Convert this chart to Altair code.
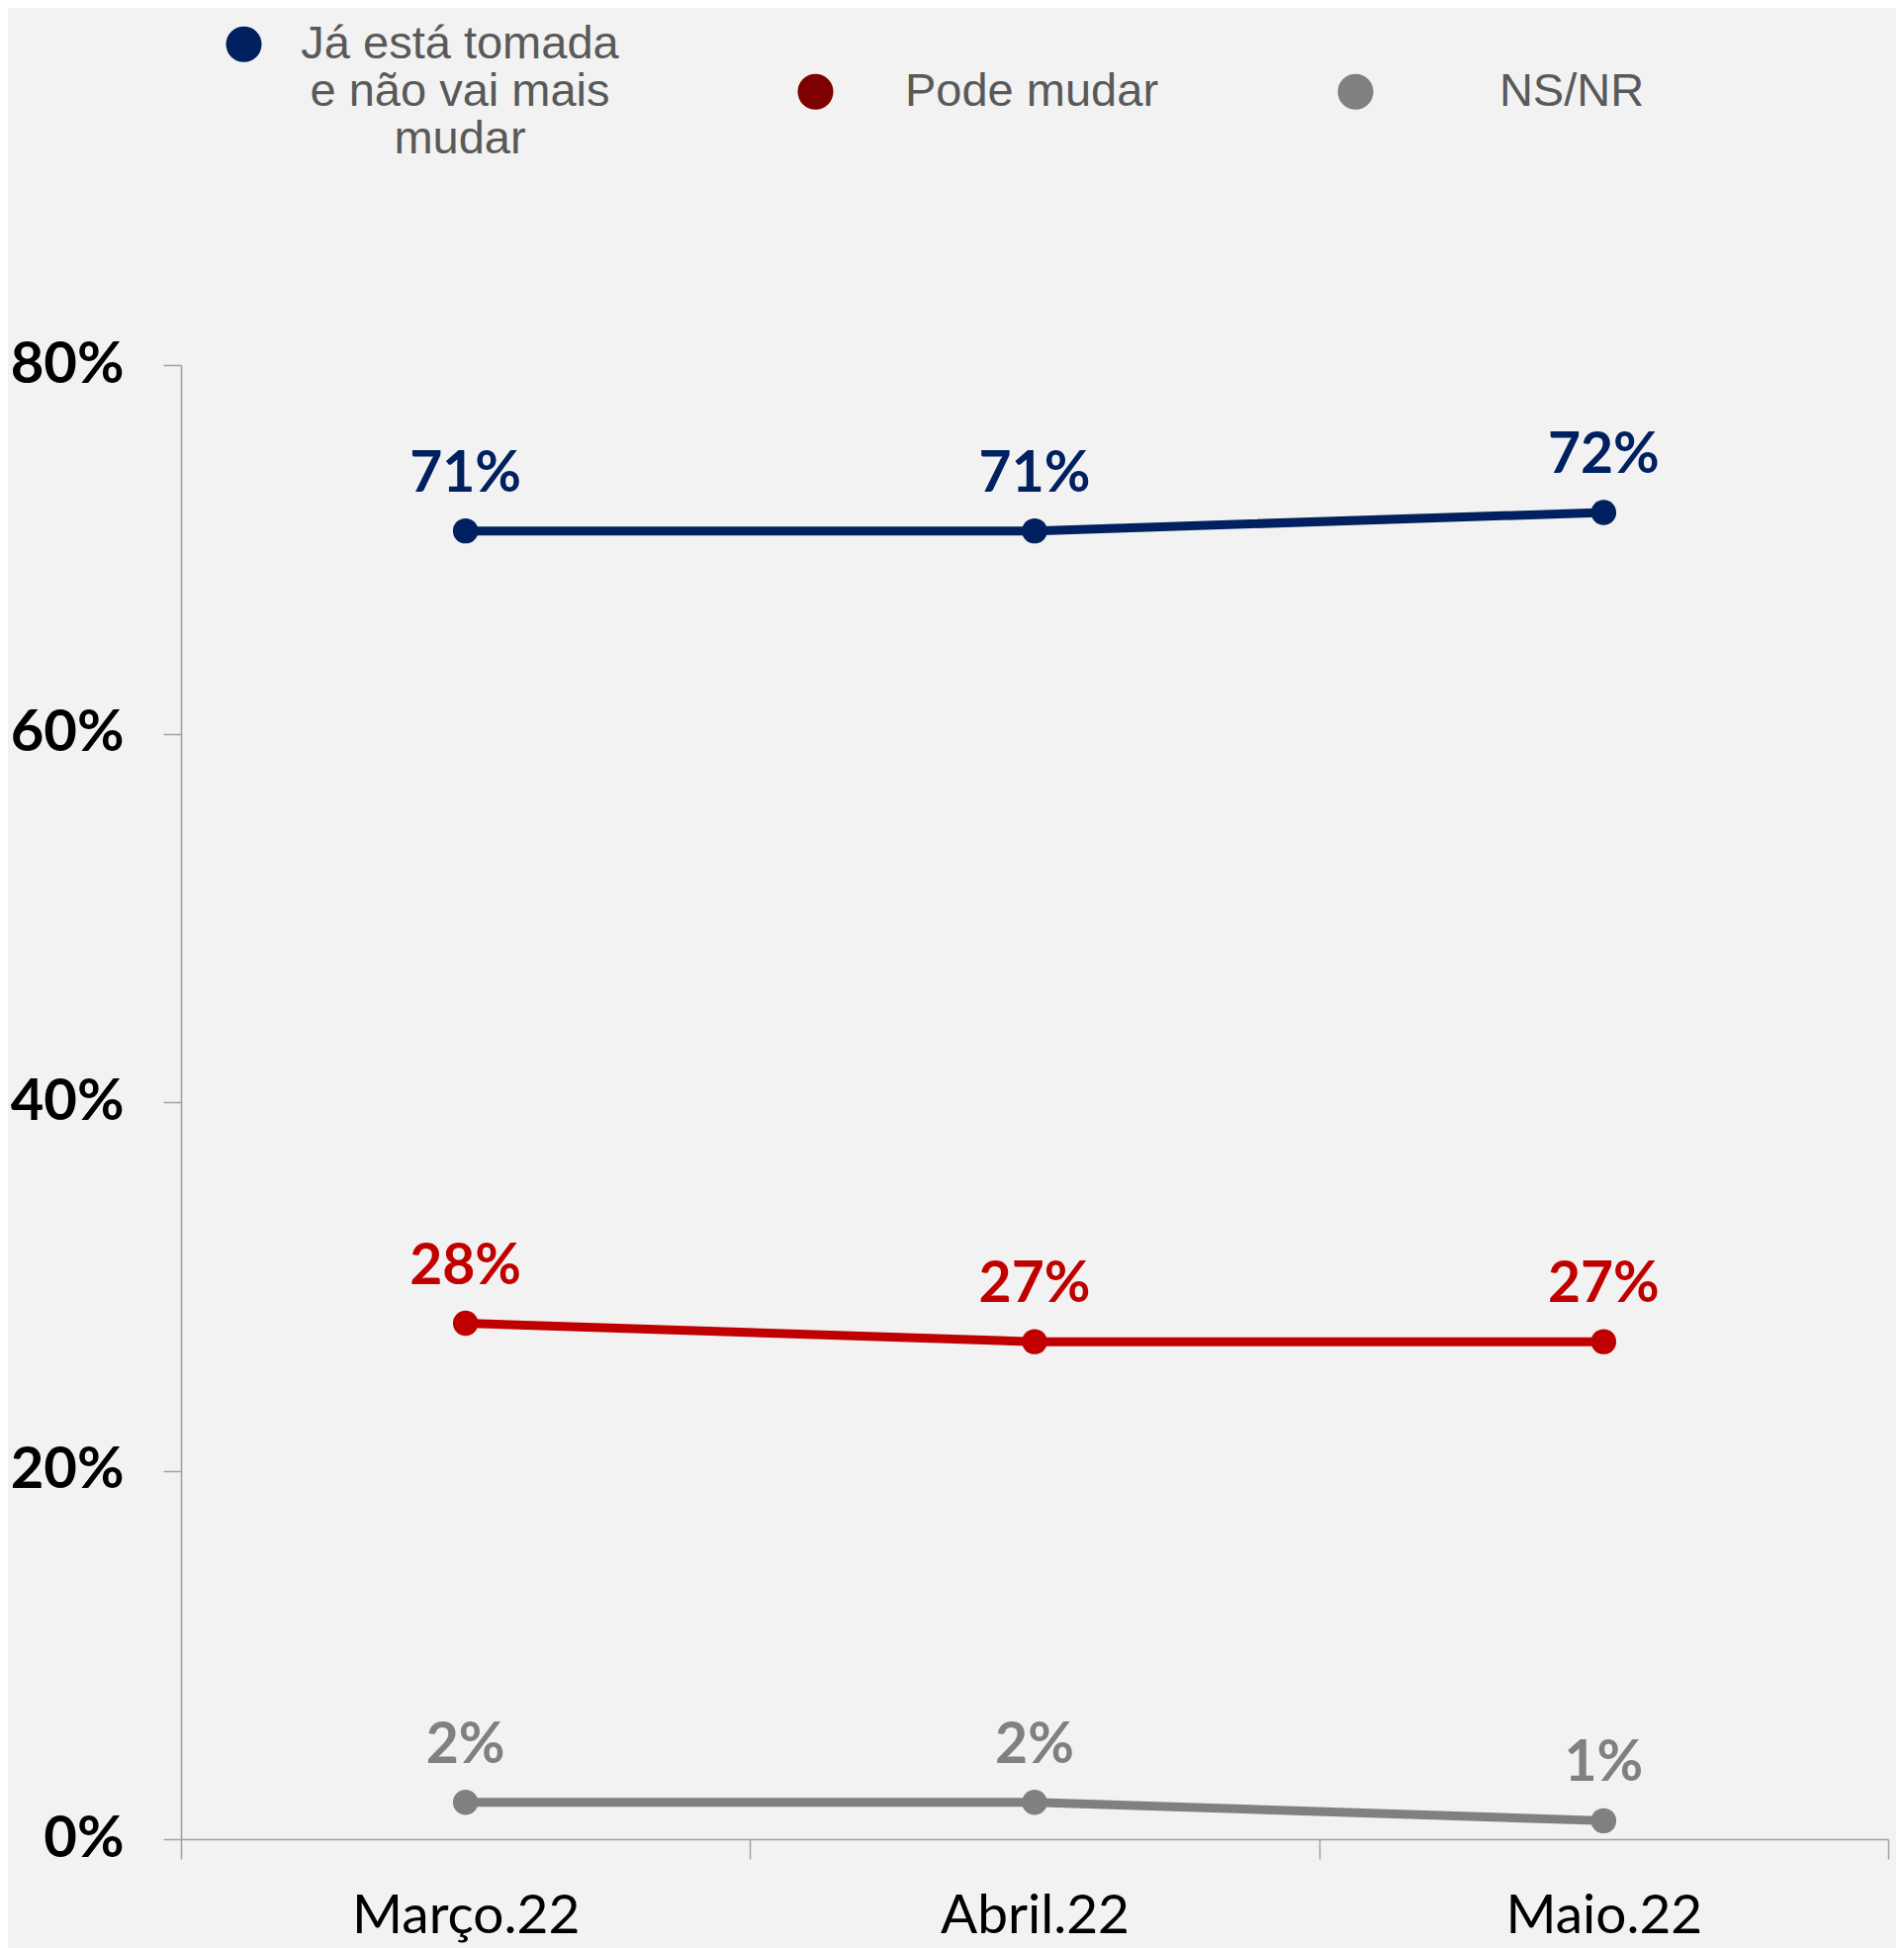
import altair as alt
import pandas as pd

months = ["Março.22", "Abril.22", "Maio.22"]
series = ["Já está tomada e não vai mais mudar", "Pode mudar", "NS/NR"]
ja_esta_tomada = [0.71, 0.71, 0.72]
pode_mudar = [0.28, 0.27, 0.27]
ns_nr = [0.02, 0.02, 0.01]

line_colors = ["#002060", "#C00000", "#808080"]
legend_colors = ["#002060", "#7F0000", "#808080"]

rows = []
for s, vals in zip(series, [ja_esta_tomada, pode_mudar, ns_nr]):
    for m, v in zip(months, vals):
        rows.append({"mes": m, "serie": s, "valor": v})
df = pd.DataFrame(rows)

x_enc = alt.X(
    "mes:N",
    sort=months,
    scale=alt.Scale(type="band", paddingInner=0, paddingOuter=0),
    axis=alt.Axis(
        title=None,
        tickBand="extent",
        labelAngle=0,
        labelFont="Lato",
        labelFontSize=55,
        labelColor="#000000",
        labelPadding=31,
        labelLimit=600,
        tickSize=20,
        tickColor="#A0A0A0",
        domainColor="#A0A0A0",
        tickWidth=1.5,
        domainWidth=1.5,
        labelBaseline="top",
    ),
)
y_enc = alt.Y(
    "valor:Q",
    scale=alt.Scale(domain=[0, 0.8]),
    axis=alt.Axis(
        title=None,
        values=[0, 0.2, 0.4, 0.6, 0.8],
        format=".0%",
        grid=False,
        labelFont="Lato",
        labelFontWeight="bold",
        labelFontSize=58,
        labelColor="#000000",
        labelPadding=40,
        tickSize=18,
        tickColor="#A0A0A0",
        domainColor="#A0A0A0",
        tickWidth=1.5,
        domainWidth=1.5,
    ),
)
color_scale = alt.Scale(domain=series, range=line_colors)

base = alt.Chart(df)

legend_layer = base.mark_circle(size=150, opacity=1).encode(
    x=x_enc,
    y=y_enc,
    fill=alt.Fill(
        "serie:N",
        scale=alt.Scale(domain=series, range=legend_colors),
        legend=alt.Legend(
            title=None,
            orient="none",
            legendX=40,
            legendY=-348,
            direction="horizontal",
            padding=0,
            symbolType="circle",
            symbolSize=1300,
            symbolStrokeWidth=0,
            symbolOpacity=1,
            labelFont="Liberation Sans",
            labelFontSize=47,
            labelColor="#595959",
            labelAlign="center",
            labelOffset=195,
            labelLimit=600,
            columnPadding=175,
            labelExpr="datum.label == 'Já está tomada e não vai mais mudar' ? ['Já está tomada', 'e não vai mais', 'mudar'] : datum.label",
        ),
    ),
)

line_layer = base.mark_line(strokeWidth=9).encode(
    x=x_enc,
    y=y_enc,
    color=alt.Color("serie:N", scale=color_scale, legend=None),
    detail="serie:N",
)

point_layer = base.mark_circle(size=650, opacity=1).encode(
    x=x_enc,
    y=y_enc,
    color=alt.Color("serie:N", scale=color_scale, legend=None),
)

text_layer = base.mark_text(
    dy=-57, font="Lato", fontWeight="bold", fontSize=57, baseline="middle", align="center"
).encode(
    x=x_enc,
    y=y_enc,
    text=alt.Text("valor:Q", format=".0%"),
    color=alt.Color("serie:N", scale=color_scale, legend=None),
)

chart = (
    alt.layer(legend_layer, line_layer, point_layer, text_layer)
    .properties(
        width=1726,
        height=1490,
        background="#F2F2F2",
        autosize=alt.AutoSizeParams(type="none"),
        padding={"left": 175, "top": 361, "right": 8, "bottom": 110},
    )
    .configure(style={"guide-label": {"lineHeight": 48}})
    .configure_view(stroke=None)
)

chart.save("out.html", embed_options={"renderer": "svg", "actions": False})
